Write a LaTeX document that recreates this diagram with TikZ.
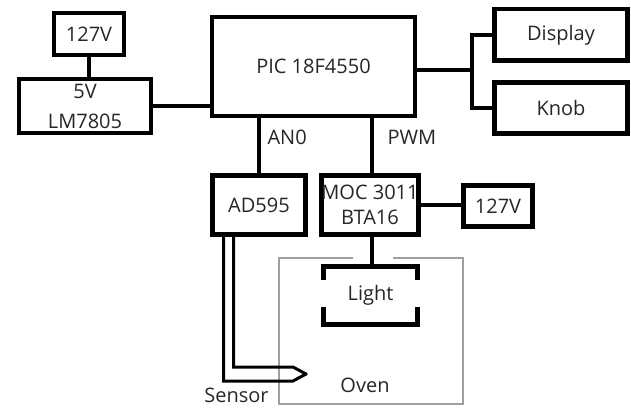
\documentclass[tikz,border=0pt]{standalone}
\usepackage{fontspec}
\setmainfont{Open Sans}
\usetikzlibrary{positioning}
\tikzset{block/.style={draw, line width=4.5pt, inner sep=0pt, align=center, text=black!85, font=\fontsize{20}{30}\selectfont}}
\tikzset{link/.style={line width=4.5pt}}
\tikzset{wire/.style={line width=3pt}}
\tikzset{label/.style={text=black!85, font=\fontsize{20}{24}\selectfont}}

\begin{document}
\begin{tikzpicture}[x=1pt, y=-1pt]
		\useasboundingbox (0,0) rectangle (631,411);
		% Supply
		\node[block, minimum width=70pt, minimum height=42pt] (mainsA) at (89,34) {127V};
		\node[block, minimum width=132pt, minimum height=54pt] (reg) at (85,106) {5V\\LM7805};
		% Controller
		\node[block, minimum width=203pt, minimum height=99pt] (pic) at (313.5,66.5) {PIC 18F4550};
		% Interface
		\node[block, minimum width=133pt, minimum height=51.5pt] (display) at (561,35) {Display};
		\node[block, minimum width=133pt, minimum height=51pt] (knob) at (561,108) {Knob};
		% Converter and driver
		\node[block, minimum width=93pt, minimum height=59pt] (ad) at (259,205) {AD595};
		\node[block, minimum width=93pt, minimum height=59pt, font=\fontsize{20}{25}\selectfont] (moc) at (370,205) {MOC 3011\\BTA16};
		\node[block, minimum width=69pt, minimum height=41pt] (mainsB) at (498,206) {127V};
		% Oven
		\draw[gray!75, line width=1.2pt] (353,258) -| (279,404) -| (463,258) -- (393,258);
		\node[label] (oven) at (365,385) {Oven};
		\node[label] (sensor) at (236.5,395) {Sensor};
		% Light
		\node[label, minimum width=94pt, minimum height=58pt, inner sep=0pt] (light) at (370.5,295.5) {Light};
		\draw[link] ([yshift=-14pt]light.north west) |- (light.north east) -- ++(0,14);
		\draw[link] ([yshift=17.5pt]light.south west) |- (light.south east) -- ++(0,-17.5);
		% Links
		\draw[link] (mainsA.south) -- (mainsA.south |- reg.north);
		\draw[link] (reg.east) -- (reg.east -| pic.west);
		\coordinate (bus) at (472,70);
		\draw[link] (pic.east |- bus) -- (bus);
		\draw[link] (display.west) -| (bus) |- (knob.west);
		\draw[link] (pic.south -| ad) -- (ad.north) node[label, pos=0.35, anchor=west, xshift=3pt]{AN0};
		\draw[link] (pic.south -| 372,0) -- (moc.north -| 372,0) node[label, pos=0.35, anchor=west, xshift=10pt]{PWM};
		\draw[link] (moc.east) -- (moc.east -| mainsB.west);
		\draw[link] (moc.south -| 372,0) -- (light.north -| 372,0);
		% Thermocouple
		\coordinate (tip) at (306,374);
		\draw[wire] ([xshift=-35.5pt]ad.south) |- (293,381) -- (tip);
		\draw[wire] ([xshift=-25.5pt]ad.south) |- (293,367) -- (tip);
		\fill (tip) circle (1.8);
	\end{tikzpicture}
\end{document}
